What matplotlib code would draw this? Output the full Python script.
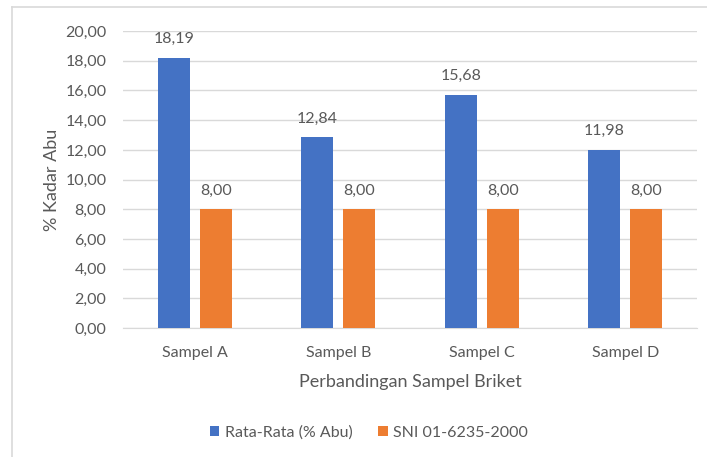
import matplotlib.pyplot as plt
from matplotlib.lines import Line2D
import numpy as np

categories = ['Sampel A', 'Sampel B', 'Sampel C', 'Sampel D']
rata_rata = [18.19, 12.84, 15.68, 11.98]
sni = [8.00, 8.00, 8.00, 8.00]
series_names = ['Rata-Rata (% Abu)', 'SNI 01-6235-2000']

BLUE = '#4472C4'
ORANGE = '#ED7D31'
TEXT = '#595959'
GRID = '#D9D9D9'

plt.rcParams['font.family'] = ['Lato', 'DejaVu Sans']

fig = plt.figure(figsize=(7.07, 4.57), dpi=100)
ax = fig.add_axes([0.174, 0.282, 0.812, 0.650])

x = np.arange(len(categories))
w = 0.223
off = 0.146
b1 = ax.bar(x - off, rata_rata, w, color=BLUE, label=series_names[0], zorder=3)
b2 = ax.bar(x + off, sni, w, color=ORANGE, label=series_names[1], zorder=3)

def fmt(v):
    return f'{v:.2f}'.replace('.', ',')

for bars, vals in ((b1, rata_rata), (b2, sni)):
    for rect, v in zip(bars, vals):
        ax.text(rect.get_x() + rect.get_width() / 2, v + 0.8, fmt(v),
                ha='center', va='bottom', fontsize=11.5, color=TEXT)

ax.set_xlim(-0.5, len(categories) - 0.5)
ax.set_ylim(0, 20)
ticks = np.arange(0, 21, 2)
ax.set_yticks(ticks)
ax.set_yticklabels([fmt(t) for t in ticks])
ax.set_xticks(x)
ax.set_xticklabels(categories)
ax.tick_params(axis='both', length=0, labelsize=11.5, colors=TEXT)
ax.tick_params(axis='y', pad=12)
ax.tick_params(axis='x', pad=13)
ax.grid(axis='y', color=GRID, linewidth=1, zorder=0)
for side in ('top', 'right', 'left'):
    ax.spines[side].set_visible(False)
ax.spines['bottom'].set_color(GRID)

ax.set_xlabel('Perbandingan Sampel Briket', fontsize=13, color=TEXT, labelpad=10)
ax.set_ylabel('% Kadar Abu', fontsize=13, color=TEXT, labelpad=4)

fig.legend(handles=[b1, b2], labels=series_names, loc='center',
           bbox_to_anchor=(0.522, 0.053), ncol=2, frameon=False,
           fontsize=11.5, labelcolor=TEXT, handlelength=0.6, handleheight=0.6,
           handletextpad=0.35, columnspacing=1.6)

# chart frame edges
fig.add_artist(Line2D([12 / 707, 12 / 707], [0, 1 - 7 / 457], color='#D9D9D9', lw=1.2))
fig.add_artist(Line2D([12 / 707, 1], [1 - 7 / 457, 1 - 7 / 457], color='#D9D9D9', lw=1.2))

fig.savefig('out.png', dpi=100)
